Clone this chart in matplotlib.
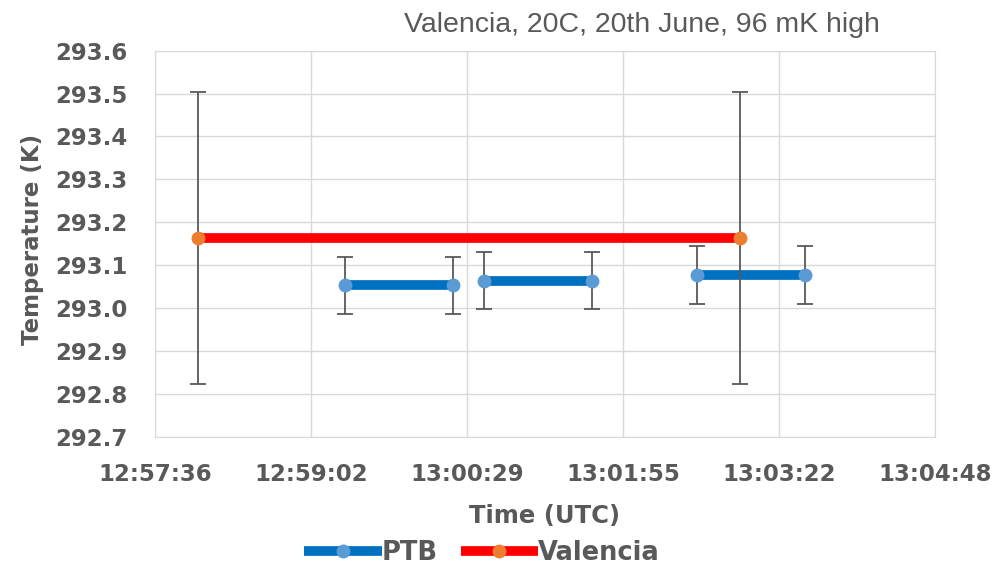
#!/usr/bin/env python3
# PTB vs Valencia temperature comparison, 20th June (Excel-style restyle).
import matplotlib
matplotlib.use("Agg")
import matplotlib.pyplot as plt
from matplotlib.ticker import FuncFormatter, MultipleLocator

# --- data ---
valencia_times = ["12:58:00", "13:03:00"]
valencia_temp = [293.163, 293.163]
valencia_err = [0.34, 0.34]

ptb_start = ["12:59:21", "13:00:38", "13:02:36"]
ptb_end = ["13:00:21", "13:01:38", "13:03:36"]
ptb_temp = [293.053, 293.064, 293.077]
ptb_err = [0.066, 0.066, 0.068]

x_range = ["12:57:36", "13:04:48"]
y_range = [292.7, 293.6]

TITLE = "Valencia, 20C, 20th June, 96 mK high"
PTB_LINE, PTB_MARK = "#0070C0", "#5B9BD5"
VAL_LINE, VAL_MARK = "#FF0000", "#ED7D31"
ERR = "#595959"
TXT = "#595959"
GRID = "#D9D9D9"


def secs(t):
    h, m, s = (int(v) for v in t.split(":"))
    return h * 3600 + m * 60 + s


def hms(x, _pos=None):
    x = int(round(x))
    return "%d:%02d:%02d" % (x // 3600, (x // 60) % 60, x % 60)


fig = plt.figure(figsize=(9.98, 5.71), dpi=100)
ax = fig.add_axes([155 / 998, 1 - 436.7 / 571, 780 / 998, 386 / 571])

eb_kw = dict(fmt="none", ecolor=ERR, elinewidth=1.3, capsize=6, capthick=1.3)
line_kw = dict(linewidth=7, marker="o", markersize=10, markeredgewidth=0,
               solid_capstyle="butt")

# PTB: three separate one-minute segments
for i in range(len(ptb_temp)):
    xs = [secs(ptb_start[i]), secs(ptb_end[i])]
    ys = [ptb_temp[i], ptb_temp[i]]
    ax.errorbar(xs, ys, yerr=[ptb_err[i]] * 2, zorder=2, **eb_kw)
    ax.plot(xs, ys, color=PTB_LINE, markerfacecolor=PTB_MARK, zorder=3,
            label="PTB" if i == 0 else None, **line_kw)

vx = [secs(t) for t in valencia_times]
ax.errorbar(vx, valencia_temp, yerr=valencia_err, zorder=4, **eb_kw)
ax.plot(vx, valencia_temp, color=VAL_LINE, markerfacecolor=VAL_MARK,
        zorder=5, label="Valencia", **line_kw)

ax.set_xlim(secs(x_range[0]), secs(x_range[1]))
ax.set_ylim(*y_range)
ax.xaxis.set_major_locator(MultipleLocator(86.4))
ax.xaxis.set_major_formatter(FuncFormatter(hms))
ax.yaxis.set_major_locator(MultipleLocator(0.1))
ax.yaxis.set_major_formatter(FuncFormatter(lambda v, p: "%.1f" % v))
ax.grid(True, color=GRID, linewidth=1.0)
ax.set_axisbelow(True)
for sp in ax.spines.values():
    sp.set_color(GRID)
ax.tick_params(length=0, colors=TXT, labelsize=16.5)
ax.tick_params(axis="x", pad=19)
ax.tick_params(axis="y", pad=20)
for lab in ax.get_xticklabels() + ax.get_yticklabels():
    lab.set_fontweight("bold")

ax.set_xlabel("Time (UTC)", fontsize=17.5, fontweight="bold", color=TXT)
ax.xaxis.set_label_coords(0.5, -0.175)
ax.set_ylabel("Temperature (K)", fontsize=16.5, fontweight="bold", color=TXT)
ax.yaxis.set_label_coords(-0.142, 0.51)

fig.text(642 / 998, 1 - 25 / 571, TITLE, ha="center", va="center",
         fontsize=20.5, color=TXT, family="Liberation Sans")

leg = fig.legend(loc="center", bbox_to_anchor=(482 / 998, 1 - 553 / 571),
                 ncol=2, frameon=False, handlelength=3.0, handletextpad=0.0,
                 columnspacing=0.9, prop=dict(size=18.5, weight="bold"))
for t in leg.get_texts():
    t.set_color(TXT)

fig.savefig("out.png", dpi=100)
plt.close(fig)
